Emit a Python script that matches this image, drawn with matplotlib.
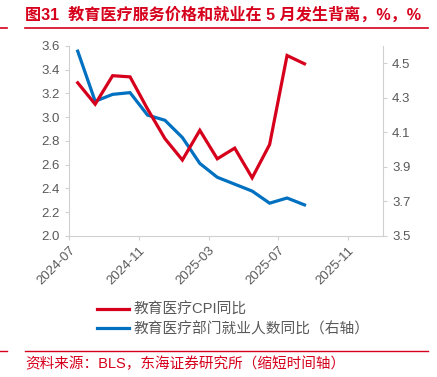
import matplotlib
matplotlib.use("Agg")
import matplotlib.pyplot as plt
import numpy as np

plt.rcParams['font.family'] = ['Liberation Sans', 'Noto Sans CJK SC', 'DejaVu Sans']

months = ['2024-07', '2024-08', '2024-09', '2024-10', '2024-11', '2024-12', '2025-01',
          '2025-02', '2025-03', '2025-04', '2025-05', '2025-06', '2025-07', '2025-08']
cpi = [3.29, 3.11, 3.35, 3.34, 3.07, 2.82, 2.64, 2.89, 2.65, 2.74, 2.49, 2.77, 3.52, 3.45]
emp = [4.57, 4.28, 4.32, 4.33, 4.20, 4.17, 4.07, 3.92, 3.84, 3.80, 3.76, 3.69, 3.72, 3.68]
tick_labels = ['2024-07', '2024-11', '2025-03', '2025-07', '2025-11']
cpi_label = '教育医疗CPI同比'
emp_label = '教育医疗部门就业人数同比（右轴）'
title = '图31  教育医疗服务价格和就业在 5 月发生背离，%，%'
source = '资料来源：BLS，东海证券研究所（缩短时间轴）'

RED = '#D6001C'
BLUE = '#0070C0'
GRAY = '#595959'
SPINE = '#D0D0D0'
TRED = '#D6001C'

W, H = 437, 377
fig = plt.figure(figsize=(W/100, H/100), dpi=100)

def fx(px): return px / W
def fy(py): return 1 - py / H

ax = fig.add_axes([fx(69), fy(236), fx(383) - fx(69), fy(46) - fy(236)])
ax2 = ax.twinx()

x = np.arange(len(months)) + 0.5
l1, = ax.plot(x, cpi, color=RED, lw=2.3, label=cpi_label, solid_joinstyle='miter')
l2, = ax2.plot(x, emp, color=BLUE, lw=2.3, label=emp_label, solid_joinstyle='miter')
ax.set_zorder(ax2.get_zorder() + 1)
ax.patch.set_visible(False)

ax.set_xlim(0, 18)
ax.set_ylim(2.0, 3.6)
ax2.set_ylim(3.5, 4.6)
ax.set_yticks(np.arange(2.0, 3.61, 0.2))
ax.set_yticklabels([f'{v:.1f}' for v in np.arange(2.0, 3.61, 0.2)])
ax2.set_yticks(np.arange(3.5, 4.51, 0.2))
ax2.set_yticklabels([f'{v:.1f}' for v in np.arange(3.5, 4.51, 0.2)])
ax.set_xticks([0, 4, 8, 12, 16])
ax.set_xticklabels(tick_labels, rotation=45, ha='right', rotation_mode='anchor')

for a in (ax, ax2):
    for s in a.spines.values():
        s.set_color(SPINE)
        s.set_linewidth(0.8)
    a.spines['top'].set_visible(False)
    a.tick_params(colors=SPINE, labelcolor=GRAY, labelsize=9.5, length=3, width=0.8)
ax.spines['right'].set_visible(False)
ax2.spines['left'].set_visible(False)
ax2.spines['bottom'].set_visible(False)
ax.tick_params(axis='x', pad=3)

fig.legend(handles=[l1, l2], loc='upper left', bbox_to_anchor=(fx(97), fy(303)),
           frameon=False, fontsize=10.6, handlelength=2.2, handletextpad=0.25,
           labelspacing=0.35, borderaxespad=0, borderpad=0, labelcolor=GRAY)

fig.text(fx(25), fy(15), title, color=TRED, fontsize=11.6, fontweight='bold', va='center', ha='left')
fig.add_artist(plt.Line2D([fx(25), fx(428)], [fy(28), fy(28)], color=TRED, lw=1.2))
fig.add_artist(plt.Line2D([fx(0), fx(7)], [fy(28), fy(28)], color=TRED, lw=1.2))
fig.add_artist(plt.Line2D([fx(25), fx(428)], [fy(351), fy(351)], color=TRED, lw=1.0))
fig.add_artist(plt.Line2D([fx(0), fx(7)], [fy(351), fy(351)], color=TRED, lw=1.0))
fig.text(fx(25), fy(364), source, color=TRED, fontsize=10.5, va='center', ha='left')

fig.savefig('out.png', dpi=100)
